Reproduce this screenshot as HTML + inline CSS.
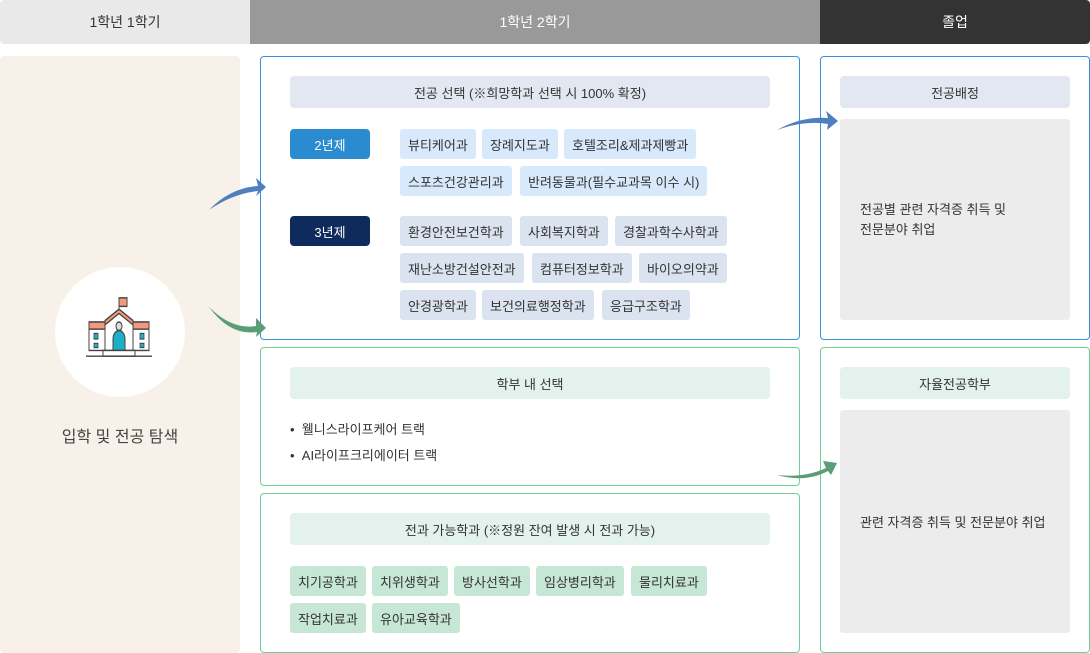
<!DOCTYPE html><html><head><meta charset="utf-8"><style>
*{margin:0;padding:0;box-sizing:border-box}
body{width:1090px;height:653px;background:#fff;position:relative;font-family:"Liberation Sans","Noto Sans CJK KR",sans-serif;color:#333;overflow:hidden}
.a{position:absolute}
.h{position:absolute;top:0;height:44px;display:flex;align-items:center;justify-content:center;font-size:14px}
.bar{position:absolute;height:32px;border-radius:4px;display:flex;align-items:center;justify-content:center;font-size:13px;color:#333}
.chip{position:absolute;height:30px;border-radius:3px;font-size:13px;padding:0 8px;display:flex;align-items:center;color:#333;white-space:nowrap}
.b1{background:#d7e9fb}.b2{background:#dbe3f1}.g{background:#c7e7d6}
.box{position:absolute;border-radius:4px;background:#fff}
</style></head><body>
<div class="h" style="left:0;width:250px;background:#e9e9e9;border-radius:4px 0 0 4px">1학년 1학기</div>
<div class="h" style="left:250px;width:570px;background:#999;color:#fff">1학년 2학기</div>
<div class="h" style="left:820px;width:270px;background:#333;color:#fff;border-radius:0 4px 4px 0">졸업</div>

<div class="a" style="left:0;top:56px;width:240px;height:597px;background:#f7f1ea;border-radius:4px"></div>
<div class="a" style="left:55px;top:267px;width:130px;height:130px;border-radius:50%;background:#fff"></div>
<svg class="a" style="left:85px;top:295px" width="68" height="64" viewBox="0 0 68 45" preserveAspectRatio="none">
<rect x="34" y="2" width="8" height="6" fill="#f39a7a" stroke="#444" stroke-width="1"/><line x1="34" y1="2" x2="34" y2="12" stroke="#444"/>
<rect x="4" y="19" width="16" height="20" fill="#fff" stroke="#444"/><rect x="4" y="19" width="16" height="5" fill="#f39a7a" stroke="#444"/>
<rect x="48" y="19" width="16" height="20" fill="#fff" stroke="#444"/><rect x="48" y="19" width="16" height="5" fill="#f39a7a" stroke="#444"/>
<path d="M20 39V18L34 10L48 18V39Z" fill="#fff" stroke="#444"/><path d="M20 18L34 10L48 18V21L34 13L20 21Z" fill="#f39a7a" stroke="#444"/>
<circle cx="34" cy="22" r="3" fill="#ddd" stroke="#444"/><path d="M28 39V31a6 6 0 0 1 12 0V39Z" fill="#1eaec8" stroke="#444"/>
<rect x="9" y="27" width="4" height="4" fill="#1eaec8" stroke="#444" stroke-width=".8"/><rect x="9" y="34" width="4" height="3" fill="#1eaec8" stroke="#444" stroke-width=".8"/>
<rect x="55" y="27" width="4" height="4" fill="#1eaec8" stroke="#444" stroke-width=".8"/><rect x="55" y="34" width="4" height="3" fill="#1eaec8" stroke="#444" stroke-width=".8"/>
<rect x="18" y="39" width="32" height="4" fill="#fff" stroke="#444"/><line x1="1" y1="43" x2="67" y2="43" stroke="#444"/>
</svg>
<div class="a" style="left:0;top:423px;width:240px;text-align:center;font-size:16px;color:#444">입학 및 전공 탐색</div>

<div class="box" style="left:260px;top:56px;width:540px;height:284px;border:1px solid #3b8fe0"></div>
<div class="bar" style="left:290px;top:76px;width:480px;background:#e2e7f2">전공 선택 (※희망학과 선택 시 100% 확정)</div>
<div class="bar" style="left:290px;top:129px;width:80px;height:30px;background:#2a8bd0;color:#fff">2년제</div>
<div class="bar" style="left:290px;top:216px;width:80px;height:30px;background:#0f2a5c;color:#fff">3년제</div>
<div class="chip b1" style="left:400px;top:129px">뷰티케어과</div>
<div class="chip b1" style="left:482px;top:129px">장례지도과</div>
<div class="chip b1" style="left:564px;top:129px">호텔조리&amp;제과제빵과</div>
<div class="chip b1" style="left:400px;top:166px">스포츠건강관리과</div>
<div class="chip b1" style="left:520px;top:166px">반려동물과(필수교과목 이수 시)</div>
<div class="chip b2" style="left:400px;top:216px">환경안전보건학과</div>
<div class="chip b2" style="left:520px;top:216px">사회복지학과</div>
<div class="chip b2" style="left:615px;top:216px">경찰과학수사학과</div>
<div class="chip b2" style="left:400px;top:253px">재난소방건설안전과</div>
<div class="chip b2" style="left:532px;top:253px">컴퓨터정보학과</div>
<div class="chip b2" style="left:639px;top:253px">바이오의약과</div>
<div class="chip b2" style="left:400px;top:290px">안경광학과</div>
<div class="chip b2" style="left:482px;top:290px">보건의료행정학과</div>
<div class="chip b2" style="left:602px;top:290px">응급구조학과</div>

<div class="box" style="left:260px;top:347px;width:540px;height:139px;border:1px solid #6fcf97"></div>
<div class="bar" style="left:290px;top:367px;width:480px;background:#e3f2ec">학부 내 선택</div>
<div class="a" style="left:290px;top:417px;font-size:13px;line-height:26px">• &nbsp;웰니스라이프케어 트랙<br>• &nbsp;AI라이프크리에이터 트랙</div>

<div class="box" style="left:260px;top:493px;width:540px;height:160px;border:1px solid #6fcf97"></div>
<div class="bar" style="left:290px;top:513px;width:480px;background:#e3f2ec">전과 가능학과 (※정원 잔여 발생 시 전과 가능)</div>
<div class="chip g" style="left:290px;top:566px">치기공학과</div>
<div class="chip g" style="left:372px;top:566px">치위생학과</div>
<div class="chip g" style="left:454px;top:566px">방사선학과</div>
<div class="chip g" style="left:536px;top:566px">임상병리학과</div>
<div class="chip g" style="left:631px;top:566px">물리치료과</div>
<div class="chip g" style="left:290px;top:603px">작업치료과</div>
<div class="chip g" style="left:372px;top:603px">유아교육학과</div>

<div class="box" style="left:820px;top:56px;width:270px;height:284px;border:1px solid #3b8fe0"></div>
<div class="bar" style="left:840px;top:76px;width:230px;background:#e2e7f2">전공배정</div>
<div class="a" style="left:840px;top:119px;width:230px;height:201px;background:#ececec;border-radius:3px"></div>
<div class="a" style="left:860px;top:200px;font-size:13px;line-height:20px">전공별 관련 자격증 취득 및<br>전문분야 취업</div>

<div class="box" style="left:820px;top:347px;width:270px;height:306px;border:1px solid #6fcf97"></div>
<div class="bar" style="left:840px;top:367px;width:230px;background:#e3f2ec">자율전공학부</div>
<div class="a" style="left:840px;top:410px;width:230px;height:223px;background:#ececec;border-radius:3px"></div>
<div class="a" style="left:860px;top:512px;font-size:13px">관련 자격증 취득 및 전문분야 취업</div>

<svg class="a" style="left:0;top:0" width="1090" height="653">
<path d="M209 210Q230 188 258 186L256 178L266 187L256 196L258 191Q232 194 209 210Z" fill="#4f7fbf"/>
<path d="M209 307Q232 330 256 326L256 318L266 328L256 337L257 332Q230 336 209 307Z" fill="#5a9e78"/>
<path d="M777 130Q802 116 828 118L826 111L838 121L827 130L828 124Q804 120 777 130Z" fill="#4f7fbf"/>
<path d="M777 475Q805 478 826 468L823 461L837 463L831 475L828 471Q806 483 777 475Z" fill="#5a9e78"/>
</svg>
</body></html>
